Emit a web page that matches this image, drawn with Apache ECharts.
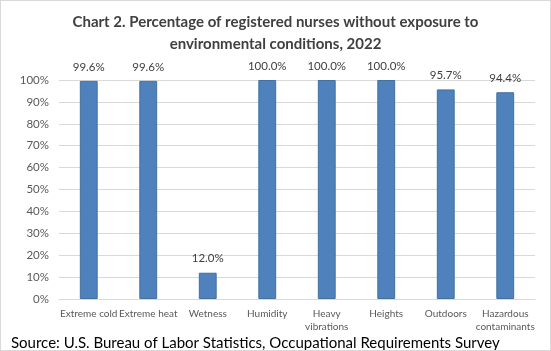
<!DOCTYPE html>
<html><head><meta charset="utf-8">
<script src="https://cdn.jsdelivr.net/npm/echarts@6/dist/echarts.min.js"></script>
<style>html,body{margin:0;padding:0;background:#fff}#c{width:551px;height:351px;box-sizing:border-box;border:1px solid #d9d9d9}</style>
</head><body><div id="c"></div>
<script>
const categories = ['Extreme cold','Extreme heat','Wetness','Humidity','Heavy\nvibrations','Heights','Outdoors','Hazardous\ncontaminants'];
const values = [99.6, 99.6, 12.0, 100.0, 100.0, 100.0, 95.7, 94.4];
const titleText = 'Chart 2. Percentage of registered nurses without exposure to\nenvironmental conditions, 2022';
const sourceText = 'Source: U.S. Bureau of Labor Statistics, Occupational Requirements Survey';
const chart = echarts.init(document.getElementById('c'), null, {renderer:'canvas'});
chart.setOption({
  animation:false,
  title:{text:titleText,left:'center',top:5,textStyle:{fontFamily:'Lato',fontSize:15,fontWeight:'bold',color:'#404040',lineHeight:22}},
  graphic:[{type:'text',left:10,top:335,style:{text:sourceText,font:'15px Lato',fill:'#000'}}],
  grid:{left:58,right:15,top:79,bottom:51,containLabel:false},
  xAxis:{type:'category',data:categories,axisLine:{lineStyle:{color:'#d9d9d9'}},axisTick:{show:false},
    axisLabel:{interval:0,color:'#595959',fontFamily:'Lato',fontSize:10,lineHeight:13,margin:8}},
  yAxis:{type:'value',min:0,max:100,interval:10,axisLabel:{formatter:'{value}%',color:'#595959',fontFamily:'Lato',fontSize:11.5,margin:10},
    splitLine:{lineStyle:{color:'#d9d9d9'}},axisLine:{show:false},axisTick:{show:false}},
  series:[{type:'bar',data:values,barWidth:'30%',itemStyle:{color:'#4f81bd',borderColor:'#41719c',borderWidth:1},
    label:{show:true,position:'top',distance:8,formatter:p=>p.value.toFixed(1)+'%',color:'#404040',fontFamily:'Lato',fontSize:11.5}}]
});
</script></body></html>
